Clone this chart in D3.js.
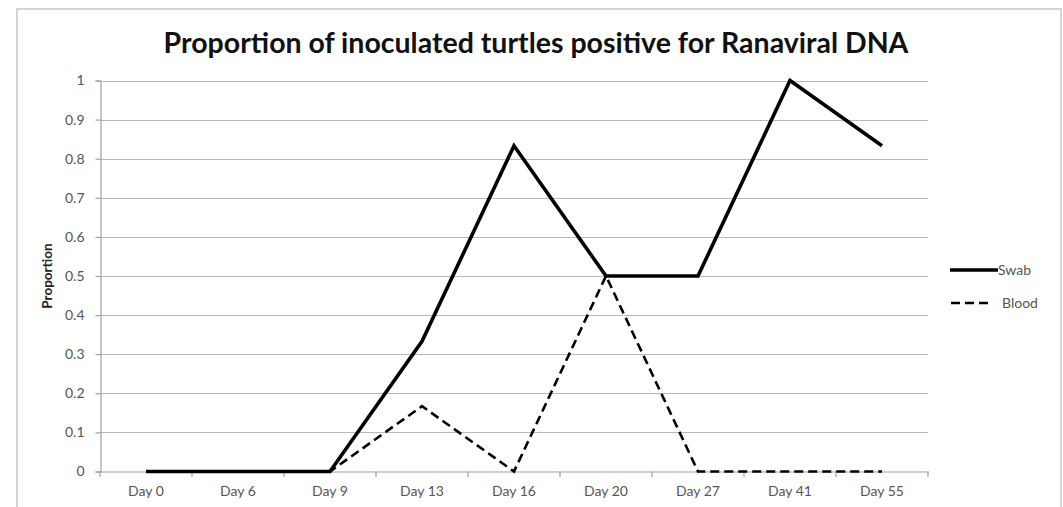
<!DOCTYPE html>
<html><head><meta charset="utf-8">
<script src="https://cdn.jsdelivr.net/npm/d3@7"></script>
<style>
html,body{margin:0;padding:0;background:#fff;}
svg{display:block;}
text{font-family:Lato,"Open Sans",sans-serif;}
</style></head>
<body>
<svg id="chart" width="1063" height="507"></svg>
<script>
const categories = ["Day 0","Day 6","Day 9","Day 13","Day 16","Day 20","Day 27","Day 41","Day 55"];
const swabValues = [0,0,0,0.333,0.833,0.5,0.5,1,0.833];
const bloodValues = [0,0,0,0.167,0,0.5,0,0,0];
const yTicks = [0,0.1,0.2,0.3,0.4,0.5,0.6,0.7,0.8,0.9,1];
const seriesNames = ["Swab","Blood"];
const titleText = "Proportion of inoculated turtles positive for Ranaviral DNA";
const yTitle = "Proportion";

const svg = d3.select("#chart");

// outer chart border
svg.append("rect").attr("x",17).attr("y",9).attr("width",1044).attr("height",520)
  .attr("fill","none").attr("stroke","#d4d4d4").attr("stroke-width",2);

const x = d3.scaleBand().domain(categories).range([100,928]).paddingInner(0).paddingOuter(0);
const y = d3.scaleLinear().domain([0,1]).range([471.5,80.5]);

// gridlines
svg.append("g").selectAll("line").data(yTicks.filter(d=>d>0)).join("line")
  .attr("x1",100).attr("x2",928)
  .attr("y1",d=>Math.round(y(d))+0.5).attr("y2",d=>Math.round(y(d))+0.5)
  .attr("stroke","#b8b8b8").attr("stroke-width",1.2);

// y axis
const yAxis = d3.axisLeft(y).tickValues(yTicks).tickSize(5).tickPadding(11)
  .tickFormat(d=>d3.format("")(+d.toFixed(1)));
const gy = svg.append("g").attr("transform","translate(100.5,0)").call(yAxis);
gy.select(".domain").attr("stroke","#a0a0a0").attr("stroke-width",1.2);
gy.selectAll(".tick line").attr("stroke","#a0a0a0").attr("stroke-width",1.2);
gy.selectAll(".tick text").attr("fill","#555").attr("font-size",14);

// x axis
const xAxis = d3.axisBottom(x).tickSize(0).tickPadding(15);
const gx = svg.append("g").attr("transform","translate(0,471.5)").call(xAxis);
gx.select(".domain").attr("stroke","#a0a0a0").attr("stroke-width",1.2);
gx.selectAll(".tick text").attr("fill","#555").attr("font-size",14);
// boundary tick marks
svg.append("g").selectAll("line").data(categories.concat(["__end"])).join("line")
  .attr("x1",(d,i)=> i<categories.length ? x(d) : x(categories[categories.length-1])+x.bandwidth())
  .attr("x2",(d,i)=> i<categories.length ? x(d) : x(categories[categories.length-1])+x.bandwidth())
  .attr("y1",471.5).attr("y2",477)
  .attr("stroke","#a0a0a0").attr("stroke-width",1.2);

const cx = d => x(d)+x.bandwidth()/2;
const line = d3.line().x(d=>cx(d[0])).y(d=>y(d[1]));

svg.append("path").datum(categories.map((c,i)=>[c,bloodValues[i]]))
  .attr("d",line).attr("fill","none").attr("stroke","#000")
  .attr("stroke-width",2.6).attr("stroke-dasharray","9,5");
svg.append("path").datum(categories.map((c,i)=>[c,swabValues[i]]))
  .attr("d",line).attr("fill","none").attr("stroke","#000")
  .attr("stroke-width",3.6).attr("stroke-linejoin","miter");

// title
svg.append("text").attr("x",536).attr("y",53).attr("text-anchor","middle")
  .attr("font-size",28.5).attr("font-weight","bold").attr("fill","#111").text(titleText);

// y title
svg.append("text").attr("transform","translate(52,276) rotate(-90)")
  .attr("text-anchor","middle").attr("font-size",13.5).attr("font-weight","bold")
  .attr("fill","#222").text(yTitle);

// legend
const leg = svg.append("g");
const legY = [270,303];
leg.append("line").attr("x1",950).attr("x2",998).attr("y1",legY[0]).attr("y2",legY[0])
  .attr("stroke","#000").attr("stroke-width",3.6);
leg.append("line").attr("x1",951).attr("x2",992).attr("y1",legY[1]).attr("y2",legY[1])
  .attr("stroke","#000").attr("stroke-width",2.6).attr("stroke-dasharray","9,5");
leg.selectAll("text").data(seriesNames).join("text")
  .attr("x",(d,i)=> i===0 ? 998 : 1002).attr("y",(d,i)=>legY[i]+5)
  .attr("font-size",14).attr("fill","#555").text(d=>d);
</script>
</body></html>
